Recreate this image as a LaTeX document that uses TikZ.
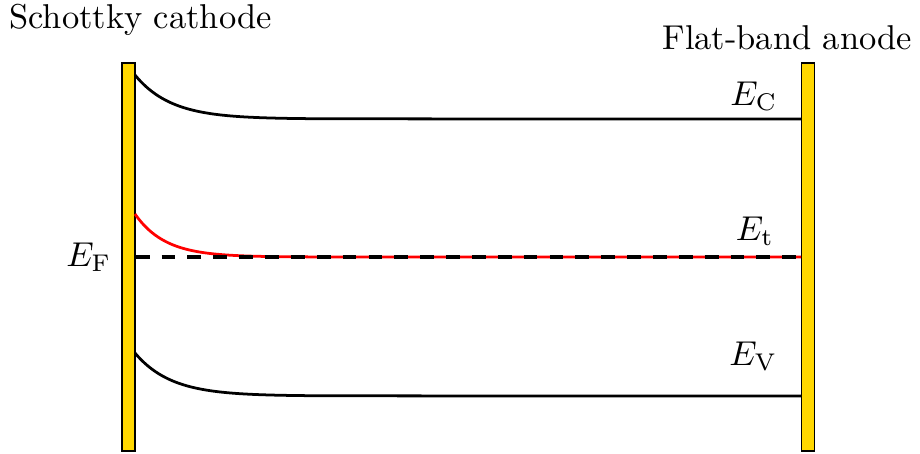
\documentclass[tikz,border=0pt]{standalone}
\usepackage{amsmath}
\usepackage{xcolor}
\usepackage{tikz}
\usetikzlibrary{positioning, calc}

\definecolor{electrodeor}{HTML}{FFD700}

\begin{document}
\begin{tikzpicture}[x=0.29pt,y=-0.29pt,thick,
    electrode/.style={draw, thin, fill=electrodeor, rectangle, inner sep=0pt, minimum width=3.8pt, minimum height=112.5pt},
    niveau/.style={inner sep=1pt}]
            \useasboundingbox (0,0) rectangle (920,453);

            % Électrodes
            \node[electrode] (cathode) at (128.5,257) {};
            \node[electrode] (anode) at (808,257) {};
            \node[above=4pt of cathode, xshift=3.5pt] (titreK) {Schottky cathode};
            \node[above=0pt of anode, xshift=-6pt] (titreA) {Flat-band anode};

            % Extrémités des niveaux
            \coordinate (ECfin) at (801,119);
            \coordinate (Etfin) at (801,257);
            \coordinate (EVfin) at (801,396);

            % Bandes avec courbure près de la cathode
            \draw plot[smooth, domain=0:200, samples=60] ({135+\x},{119-44*exp(-\x/36)}) -- (ECfin);
            \draw plot[smooth, domain=0:200, samples=60] ({135+\x},{396-43*exp(-\x/36)}) -- (EVfin);
            \draw[red] plot[smooth, domain=0:200, samples=60] ({135+\x},{257-43*exp(-\x/30)}) -- (Etfin);
            \draw[line width=0.9pt, dash pattern=on 4pt off 3.5pt] (cathode.east) -- (anode.west);

            % Étiquettes des niveaux
            \node[niveau, above left=1pt and 5.5pt of ECfin] (EC) {$E_{\mathrm{C}}$};
            \node[niveau, above left=1.9pt and 6.5pt of Etfin] (Et) {$E_{\mathrm{t}}$};
            \node[niveau, above left=6pt and 5.5pt of EVfin] (EV) {$E_{\mathrm{V}}$};
            \node[niveau, left=1.5pt of cathode] (EF) {$E_{\mathrm{F}}$};
        \end{tikzpicture}
\end{document}
